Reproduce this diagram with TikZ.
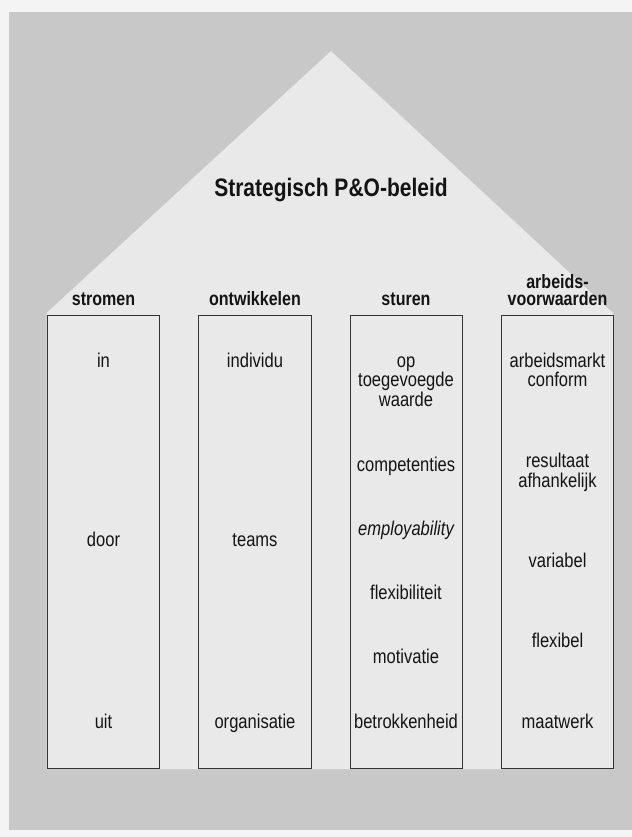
\documentclass[tikz,border=0pt]{standalone}
\usepackage{fontspec}
\setmainfont{Liberation Sans}[FakeStretch=0.83]
\definecolor{outerbg}{HTML}{F4F4F4}
\definecolor{shadebg}{HTML}{C8C8C8}
\definecolor{housebg}{HTML}{E9E9E9}
\definecolor{ink}{HTML}{141414}
\definecolor{edge}{HTML}{333333}
\begin{document}
\begin{tikzpicture}[x=1bp,y=-1bp,
  body/.style={font=\fontsize{20}{19.7}\selectfont, text=ink, align=center, anchor=base, inner sep=0pt},
  head/.style={font=\bfseries\fontsize{19.4}{17.5}\selectfont, text=ink, align=center, anchor=base, inner sep=0pt},
  titlestyle/.style={font=\bfseries\fontsize{25.4}{28}\selectfont, text=ink, anchor=base, inner sep=0pt},
  pillar/.style={draw=edge, line width=1.2bp, minimum width=112.5bp, minimum height=453bp, anchor=north west, inner sep=0pt}]
\useasboundingbox (0,0) rectangle (632,837);
\fill[outerbg] (0,0) rectangle (632,837);
\fill[shadebg] (9,12) rectangle (632,830);
\fill[housebg] (46.5,769) -- (46.5,313) -- (331,51) -- (613,313) -- (613,769) -- cycle;
% pillars
\node[pillar] (p1) at (46.5,315) {};
\node[pillar] (p2) at (198,315) {};
\node[pillar] (p3) at (349.5,315) {};
\node[pillar] (p4) at (500.5,315) {};
% title
\node[titlestyle] (title) at (331,196.5) {Strategisch P\&O-beleid};
% headers
\node[head] (h1) at (103.5,305) {stromen};
\node[head] (h2) at (255,305) {ontwikkelen};
\node[head] (h3) at (406,305) {sturen};
\node[head] (h4) at (557.5,305.5) {arbeids-\\voorwaarden};
% column 1
\node[body] (c1a) at (103.5,367) {in};
\node[body] (c1b) at (103.5,546.5) {door};
\node[body] (c1c) at (103.5,728) {uit};
% column 2
\node[body] (c2a) at (255,367) {individu};
\node[body] (c2b) at (255,546.5) {teams};
\node[body] (c2c) at (255,728) {organisatie};
% column 3
\node[body] (c3a) at (406,406.5) {op\\toegevoegde\\waarde};
\node[body] (c3b) at (406,471) {competenties};
\node[body] (c3c) at (406,535) {\itshape employability};
\node[body] (c3d) at (406,599) {flexibiliteit};
\node[body] (c3e) at (406,663) {motivatie};
\node[body] (c3f) at (406,728) {betrokkenheid};
% column 4
\node[body] (c4a) at (557.5,386.7) {arbeidsmarkt\\conform};
\node[body] (c4b) at (557.5,487) {resultaat\\afhankelijk};
\node[body] (c4c) at (557.5,567.5) {variabel};
\node[body] (c4d) at (557.5,647) {flexibel};
\node[body] (c4e) at (557.5,728) {maatwerk};
\end{tikzpicture}
\end{document}
